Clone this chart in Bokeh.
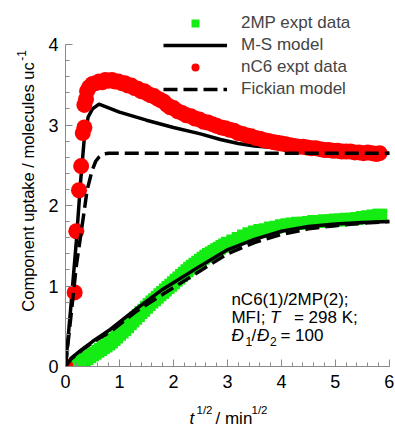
import numpy as np
from bokeh.plotting import figure
from bokeh.layouts import row, column
from bokeh.models import Range1d, SingleIntervalTicker, Legend, LegendItem, Label
from bokeh.embed import file_html
from bokeh.resources import INLINE

# ---------------- data ----------------
# nC6 experimental uptake (red circles)
nc6_x = [0.00, 0.17, 0.20, 0.25, 0.29, 0.32, 0.35, 0.35, 0.38, 0.40,
         0.44, 0.50, 0.56, 0.62, 0.68, 0.74, 0.80, 0.86, 0.92, 0.98,
         1.04, 1.10, 1.16, 1.22, 1.28, 1.34, 1.40, 1.46, 1.52, 1.58,
         1.64, 1.70, 1.76, 1.82, 1.88, 1.94, 2.00, 2.08, 2.16, 2.24,
         2.32, 2.40, 2.48, 2.56, 2.64, 2.72, 2.80, 2.88, 2.96, 3.04,
         3.12, 3.20, 3.28, 3.36, 3.44, 3.52, 3.60, 3.68, 3.76, 3.84,
         3.92, 4.00, 4.08, 4.16, 4.24, 4.32, 4.40, 4.48, 4.56, 4.64,
         4.72, 4.80, 4.88, 4.96, 5.04, 5.12, 5.20, 5.28, 5.36, 5.44,
         5.52, 5.60, 5.68, 5.76, 5.82]
nc6_y = [0.00, 0.92, 1.68, 2.19, 2.49, 2.90, 2.97, 3.25, 3.32, 3.42,
         3.47, 3.51, 3.52, 3.54, 3.53, 3.56, 3.55, 3.56, 3.54, 3.54,
         3.52, 3.52, 3.49, 3.49, 3.46, 3.45, 3.42, 3.42, 3.39, 3.37,
         3.36, 3.33, 3.31, 3.29, 3.25, 3.22, 3.21, 3.17, 3.15, 3.12,
         3.11, 3.08, 3.07, 3.04, 3.03, 3.01, 2.99, 2.97, 2.96, 2.94,
         2.93, 2.90, 2.89, 2.87, 2.86, 2.84, 2.83, 2.81, 2.80, 2.79,
         2.78, 2.77, 2.76, 2.75, 2.74, 2.73, 2.73, 2.72, 2.71, 2.71,
         2.70, 2.69, 2.69, 2.68, 2.68, 2.67, 2.67, 2.67, 2.66, 2.66,
         2.65, 2.66, 2.65, 2.64, 2.65]

# 2MP experimental uptake (green squares)
mp_x = [0.15, 0.20, 0.25, 0.30, 0.35, 0.40, 0.45, 0.50, 0.55, 0.60,
        0.65, 0.70, 0.75, 0.80, 0.85, 0.90, 0.95, 1.00, 1.05, 1.10,
        1.15, 1.20, 1.25, 1.30, 1.35, 1.40, 1.45, 1.50, 1.55, 1.60,
        1.65, 1.70, 1.75, 1.80, 1.85, 1.90, 1.95, 2.00, 2.05, 2.10,
        2.15, 2.20, 2.25, 2.30, 2.35, 2.40, 2.45, 2.50, 2.55, 2.60,
        2.65, 2.70, 2.75, 2.80, 2.85, 2.90, 2.95, 3.00, 3.10, 3.20,
        3.30, 3.40, 3.50, 3.60, 3.70, 3.80, 3.90, 4.00, 4.10, 4.20,
        4.30, 4.40, 4.50, 4.60, 4.70, 4.80, 4.90, 5.00, 5.10, 5.20,
        5.30, 5.40, 5.50, 5.60, 5.70, 5.80, 5.84]
mp_y = [0.01, 0.03, 0.045, 0.065, 0.08, 0.10, 0.12, 0.145, 0.165, 0.19,
        0.21, 0.235, 0.255, 0.28, 0.305, 0.335, 0.365, 0.40, 0.43, 0.46,
        0.495, 0.53, 0.565, 0.60, 0.635, 0.67, 0.70, 0.735, 0.77, 0.80,
        0.83, 0.86, 0.89, 0.92, 0.95, 0.98, 1.01, 1.04, 1.07, 1.10,
        1.13, 1.16, 1.19, 1.22, 1.245, 1.27, 1.295, 1.32, 1.345, 1.37,
        1.39, 1.41, 1.43, 1.45, 1.47, 1.49, 1.51, 1.53, 1.56, 1.59,
        1.62, 1.65, 1.67, 1.69, 1.70, 1.72, 1.73, 1.75, 1.76, 1.77,
        1.78, 1.78, 1.79, 1.80, 1.80, 1.81, 1.81, 1.82, 1.82, 1.83,
        1.83, 1.84, 1.85, 1.86, 1.87, 1.88, 1.88]

# M-S model curves (solid)
ms_nc6_x = [0.00, 0.10, 0.20, 0.28, 0.35, 0.42, 0.50, 0.62, 1.00, 1.50,
            2.00, 2.50, 2.87, 3.20, 3.50, 4.00, 4.50, 5.00, 5.50, 6.00]
ms_nc6_y = [0.00, 0.75, 1.55, 2.30, 2.85, 3.10, 3.20, 3.26, 3.16, 3.06,
            2.97, 2.89, 2.82, 2.77, 2.74, 2.71, 2.68, 2.66, 2.65, 2.65]
ms_mp_x = [0.00, 0.10, 0.30, 0.50, 0.83, 1.00, 1.30, 1.76, 2.00, 2.50,
           3.00, 3.50, 4.00, 4.50, 5.00, 5.50, 6.00]
ms_mp_y = [0.00, 0.10, 0.21, 0.31, 0.46, 0.55, 0.71, 0.94, 1.04, 1.25,
           1.45, 1.58, 1.68, 1.74, 1.77, 1.79, 1.80]

# Fickian model curves (dashed)
fk_nc6_x = [0.00, 0.10, 0.20, 0.28, 0.34, 0.40, 0.49, 0.56, 0.62, 0.70,
            0.80, 6.00]
fk_nc6_y = [0.00, 0.62, 1.25, 1.62, 1.90, 2.19, 2.43, 2.55, 2.60, 2.64,
            2.65, 2.65]
fk_mp_x = [0.00, 0.10, 0.30, 0.50, 0.83, 1.00, 1.30, 1.76, 2.00, 2.50,
           3.00, 3.50, 4.00, 4.50, 5.00, 5.50, 6.00]
fk_mp_y = [0.00, 0.09, 0.20, 0.30, 0.43, 0.52, 0.68, 0.88, 0.98, 1.19,
           1.40, 1.54, 1.64, 1.71, 1.75, 1.78, 1.80]

legend_labels = ["2MP expt data", "M-S model", "nC6 expt data", "Fickian model"]

# ---------------- styling ----------------
FONT = "Liberation Sans"
RED = "#ff0000"
GREEN = "#14ec14"
AXIS_GREY = "#8a8a8a"

LEFT_W = 38          # width of the strip holding the y title
MAIN_W = 356
MAIN_H = 396
BOTTOM_H = 34


def blank_fig(w, h):
    f = figure(width=w, height=h, output_backend="svg", toolbar_location=None,
               title=None, x_axis_location=None, y_axis_location=None,
               x_range=Range1d(0, w), y_range=Range1d(0, h),
               min_border=0, min_border_left=0, min_border_right=0,
               min_border_top=0, min_border_bottom=0)
    f.xgrid.visible = False
    f.ygrid.visible = False
    f.outline_line_color = None
    return f


def lab(f, x, y, text, dx=0, dy=0, size="17px", style="normal", angle=0):
    f.add_layout(Label(x=x, y=y, text=text, x_offset=dx, y_offset=dy,
                       text_font=FONT, text_font_size=size,
                       text_font_style=style, text_color="black",
                       text_align="left", text_baseline="alphabetic",
                       angle=angle))


# ---------------- main figure ----------------
p = figure(width=MAIN_W, height=MAIN_H, output_backend="svg",
           toolbar_location=None, title=None,
           x_range=Range1d(0, 6.04), y_range=Range1d(0, 4.547),
           min_border_left=27, min_border_right=3,
           min_border_top=0, min_border_bottom=MAIN_H - 366)
p.xgrid.visible = False
p.ygrid.visible = False
p.outline_line_color = None

for ax, bnds, standoff in ((p.xaxis, (0, 6), 8), (p.yaxis, (0, 4), 7)):
    ax.ticker = SingleIntervalTicker(interval=1, num_minor_ticks=5)
    ax.bounds = bnds
    ax.axis_line_color = AXIS_GREY
    ax.axis_line_width = 1
    ax.major_tick_line_color = AXIS_GREY
    ax.minor_tick_line_color = AXIS_GREY
    ax.major_tick_in = 7
    ax.major_tick_out = 0
    ax.minor_tick_in = 4
    ax.minor_tick_out = 0
    ax.major_label_text_font = FONT
    ax.major_label_text_font_size = "18px"
    ax.major_label_text_color = "black"
    ax.major_label_standoff = standoff
    ax.axis_label = None

g = p.scatter(mp_x, mp_y, marker="square", size=13, fill_color=GREEN,
              line_color=None)
ms1 = p.line(ms_nc6_x, ms_nc6_y, line_color="black", line_width=3.5)
ms2 = p.line(ms_mp_x, ms_mp_y, line_color="black", line_width=3.5)
r = p.scatter(nc6_x, nc6_y, marker="circle", size=16, fill_color=RED,
              line_color=None)
fk1 = p.line(fk_nc6_x, fk_nc6_y, line_color="black", line_width=3.5,
             line_dash="14 6")
fk2 = p.line(fk_mp_x, fk_mp_y, line_color="black", line_width=3.5,
             line_dash="14 6")

legend = Legend(items=[LegendItem(label=legend_labels[0], renderers=[g]),
                       LegendItem(label=legend_labels[1], renderers=[ms1]),
                       LegendItem(label=legend_labels[2], renderers=[r]),
                       LegendItem(label=legend_labels[3], renderers=[fk1])],
                location=(98, 267), glyph_width=64, glyph_height=20,
                label_standoff=14, spacing=2, padding=0, margin=0,
                border_line_alpha=0, background_fill_alpha=0,
                label_text_font=FONT, label_text_font_size="17px",
                label_height=20)
p.add_layout(legend)

# annotation block (inside the frame, data units)
xa = 3.074
lab(p, xa, 0.832, "nC6(1)/2MP(2);")
lab(p, xa, 0.605, "MFI;")
lab(p, xa, 0.605, "T", dx=38.7, style="italic")
lab(p, xa, 0.605, "= 298 K;", dx=62.5)
lab(p, xa, 0.385, "\u0110", style="italic")
lab(p, xa, 0.385, "1", dx=14, dy=-5.5, size="12px")
lab(p, xa, 0.385, "/", dx=20.2)
lab(p, xa, 0.385, "\u0110", dx=25.5, style="italic")
lab(p, xa, 0.385, "2", dx=38.5, dy=-5.5, size="12px")
lab(p, xa, 0.385, "= 100", dx=49)

# ---------------- y title strip ----------------
left = blank_fig(LEFT_W, MAIN_H)
yx, yy = 27.3, MAIN_H - 336.7
lab(left, yx, yy, "Component uptake / molecules uc", size="16.5px",
    angle=np.pi / 2)
lab(left, yx, yy, "-1", dx=-6.6, dy=251, size="12px", angle=np.pi / 2)

# ---------------- x title strip ----------------
bottom = blank_fig(LEFT_W + MAIN_W, BOTTOM_H)
xl, yl = 189, 12
lab(bottom, xl, yl, "t", style="italic")
lab(bottom, xl, yl, "1/2", dx=7, dy=9, size="11.5px")
lab(bottom, xl, yl, "/ min", dx=26)
lab(bottom, xl, yl, "1/2", dx=62, dy=9, size="11.5px")

page = column(row(left, p, spacing=0), bottom, spacing=0)

open("out.html", "w").write(file_html(page, INLINE))
